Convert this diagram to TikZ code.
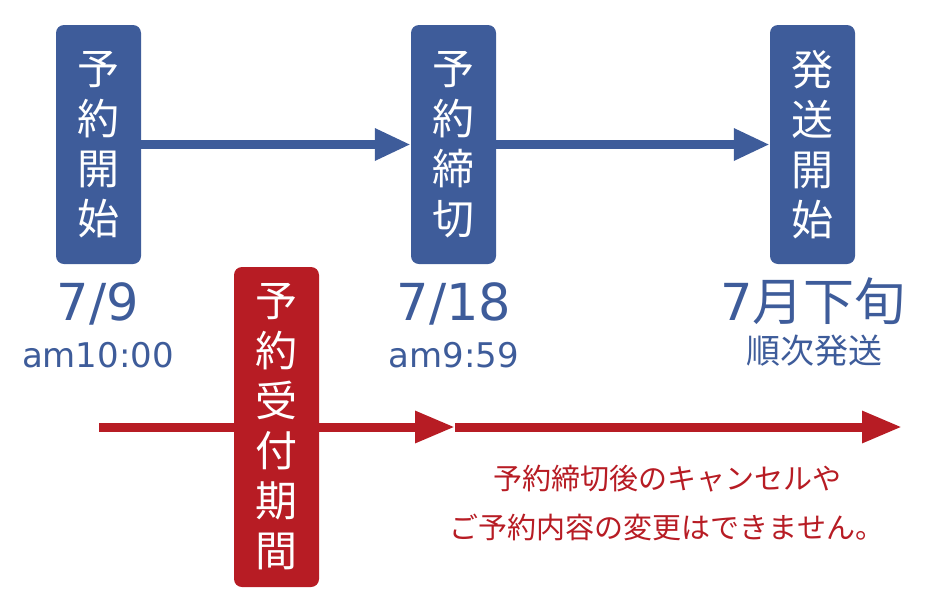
\documentclass[tikz,border=0pt]{standalone}
\usepackage{fontspec}
\setmainfont{Noto Sans CJK JP}
\newfontfamily\latnum{DejaVu Sans}
\usetikzlibrary{arrows.meta}
\definecolor{navy}{RGB}{62,92,154}
\definecolor{crim}{RGB}{183,28,36}
\tikzset{
  vbox/.style={rounded corners=8pt, minimum width=85pt, text=white, align=center,
    inner sep=0pt, font=\fontsize{42}{50}\selectfont},
  bluebox/.style={vbox, fill=navy, minimum height=239pt},
  redbox/.style={vbox, fill=crim, minimum height=320pt},
  bluearrow/.style={draw=navy, line width=9pt, -{Triangle[length=36pt,width=30pt]}},
  redarrow/.style={draw=crim, line width=9pt, -{Triangle[length=40pt,width=30pt]}},
  bigdate/.style={text=navy, anchor=base, inner sep=0pt, font=\fontsize{51}{51}\selectfont},
  smalldate/.style={text=navy, anchor=base, inner sep=0pt, font=\fontsize{34}{34}\selectfont},
  note/.style={text=crim, align=center, inner sep=0pt, font=\fontsize{29}{49}\selectfont}
}
\begin{document}
\begin{tikzpicture}[x=1pt,y=-1pt]
\useasboundingbox (0,0) rectangle (940,603);
% blue boxes
\node[bluebox] (b1) at (98.5,144.5) {予\\約\\開\\始};
\node[bluebox] (b2) at (453.5,144.5) {予\\約\\締\\切};
\node[bluebox] (b3) at (812.5,144.5) {発\\送\\開\\始};
\draw[bluearrow] (b1.east) -- (b2.west);
\draw[bluearrow] (b2.east) -- (b3.west);
% red timeline
\coordinate (r0) at (99,427);
\coordinate (r1) at (455,427);
\coordinate (r2) at (902,427);
\draw[redarrow] (r0) -- (r1);
\draw[redarrow] (r1) -- (r2);
\node[redbox] (rb) at (276.5,427) {予\\約\\受\\付\\期\\間};
% labels
\node[bigdate] (d1) at (98,320) {\latnum 7/9};
\node[smalldate] (t1) at (98,367) {\latnum am10:00};
\node[bigdate] (d2) at (454,320) {\latnum 7/18};
\node[smalldate] (t2) at (454,367) {\latnum am9:59};
\node[bigdate] (d3) at (813,320) {{\latnum 7}月下旬};
\node[smalldate] (t3) at (814,363) {順次発送};
\node[note] (n) at (667,503) {予約締切後のキャンセルや\\ご予約内容の変更はできません。};
\end{tikzpicture}
\end{document}
